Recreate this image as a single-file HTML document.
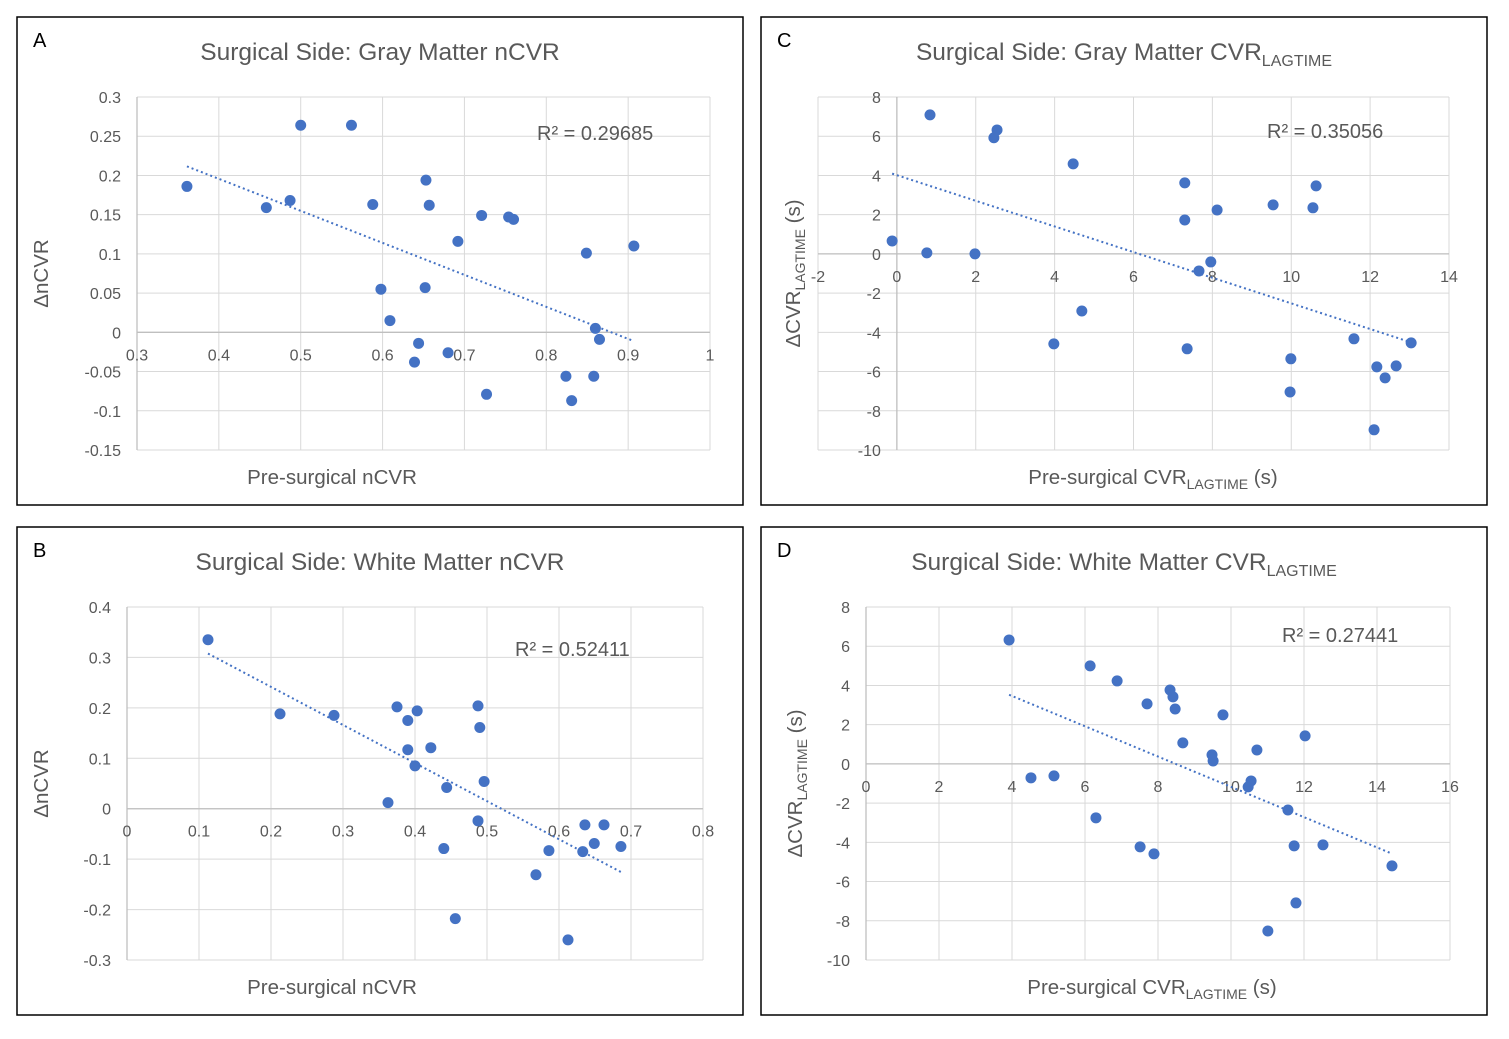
<!DOCTYPE html>
<html><head><meta charset="utf-8"><style>
body{margin:0;background:#fff;}
svg{display:block;font-family:"Liberation Sans",Arial,sans-serif;}
</style></head><body>
<svg id="c" width="1509" height="1039"></svg>
<script>
// Panel A data
const aX=[0.361,0.458,0.487,0.500,0.562,0.588,0.598,0.609,0.653,0.657,0.652,0.644,0.639,0.680,0.692,0.721,0.727,0.754,0.760,0.824,0.831,0.849,0.858,0.860,0.865,0.907];
const aY=[0.186,0.159,0.168,0.264,0.264,0.163,0.055,0.015,0.194,0.162,0.057,-0.014,-0.038,-0.026,0.116,0.149,-0.079,0.147,0.144,-0.056,-0.087,0.101,-0.056,0.005,-0.009,0.110];
// Panel C data
const cX=[-0.12,0.76,0.84,1.98,2.46,2.54,3.98,4.47,4.69,7.30,7.30,7.36,7.66,7.96,8.12,9.54,9.99,9.97,10.55,10.63,11.59,12.10,12.17,12.38,12.66,13.04];
const cY=[0.66,0.05,7.09,0,5.92,6.32,-4.59,4.59,-2.91,3.62,1.73,-4.84,-0.87,-0.41,2.24,2.50,-5.35,-7.04,2.35,3.47,-4.33,-8.97,-5.76,-6.32,-5.71,-4.54];
// Panel B data
const bX=[0.1125,0.2125,0.2875,0.3625,0.375,0.390,0.390,0.403,0.400,0.422,0.440,0.444,0.456,0.4875,0.4875,0.490,0.496,0.568,0.586,0.6125,0.633,0.636,0.649,0.6625,0.686];
const bY=[0.335,0.188,0.185,0.012,0.202,0.175,0.117,0.194,0.085,0.121,-0.079,0.042,-0.218,0.204,-0.024,0.161,0.054,-0.131,-0.083,-0.260,-0.085,-0.032,-0.069,-0.032,-0.075];
// Panel D data
const dX=[3.92,4.52,5.15,6.14,6.30,6.88,7.51,7.70,7.89,8.33,8.41,8.47,8.68,9.48,9.51,9.78,10.47,10.55,10.71,11.56,11.73,11.78,11.01,12.03,12.52,14.41];
const dY=[6.32,-0.71,-0.61,5.00,-2.75,4.23,-4.23,3.06,-4.59,3.77,3.42,2.80,1.07,0.46,0.15,2.50,-1.17,-0.87,0.71,-2.35,-4.18,-7.09,-8.52,1.43,-4.13,-5.20];
// tick arrays
const aXT=[0.3,0.4,0.5,0.6,0.7,0.8,0.9,1];
const aYT=[0.3,0.25,0.2,0.15,0.1,0.05,0,-0.05,-0.1,-0.15];
const cXT=[-2,0,2,4,6,8,10,12,14];
const cYT=[8,6,4,2,0,-2,-4,-6,-8,-10];
const bXT=[0,0.1,0.2,0.3,0.4,0.5,0.6,0.7,0.8];
const bYT=[0.4,0.3,0.2,0.1,0,-0.1,-0.2,-0.3];
const dXT=[0,2,4,6,8,10,12,14,16];
const dYT=[8,6,4,2,0,-2,-4,-6,-8,-10];

const NS="http://www.w3.org/2000/svg";
const svg=document.getElementById('c');
function mk(tag,attrs,parent,text){const e=document.createElementNS(NS,tag);for(const k in attrs)e.setAttribute(k,attrs[k]);if(text!==undefined)e.textContent=text;(parent||svg).appendChild(e);return e;}
function fmt(v){return String(Math.round(v*1000)/1000);}
function panel(o){
  const g=mk('g',{});
  
  
  const box=mk('rect',{x:o.bx,y:o.by,width:726,height:488,fill:'#fff',stroke:'#000','stroke-width':1.5},g);
  
  
  const L=o.L,R=o.R,T=o.T,B=o.B;
  const xs=v=>L+(v-o.xd[0])/(o.xd[1]-o.xd[0])*(R-L);
  const ys=v=>T+(o.yd[1]-v)/(o.yd[1]-o.yd[0])*(B-T);
  o.xt.forEach(v=>{const l=mk('line',{x1:xs(v),x2:xs(v),y1:T,y2:B,stroke:'#d9d9d9','stroke-width':1},g);});
  o.yt.forEach(v=>{const l=mk('line',{x1:L,x2:R,y1:ys(v),y2:ys(v),stroke:'#d9d9d9','stroke-width':1},g);});
  const y0=ys(0), x0=(o.xd[0]<0)?xs(0):L;
  const xa=mk('line',{x1:L,x2:R,y1:y0,y2:y0,stroke:'#bfbfbf','stroke-width':1.3},g);
  const ya=mk('line',{x1:x0,x2:x0,y1:T,y2:B,stroke:'#bfbfbf','stroke-width':1.3},g);
  o.xt.forEach(v=>{const t=mk('text',{x:xs(v),y:y0+28,'text-anchor':'middle','font-size':16,fill:'#595959'},g,fmt(v));});
  o.yt.forEach(v=>{const t=mk('text',{x:x0-16,y:ys(v)+6,'text-anchor':'end','font-size':16,fill:'#595959'},g,fmt(v));});
  // regression trendline
  const n=o.X.length;let mx=0,my=0;for(let i=0;i<n;i++){mx+=o.X[i];my+=o.Y[i];}mx/=n;my/=n;
  let sxy=0,sxx=0;for(let i=0;i<n;i++){sxy+=(o.X[i]-mx)*(o.Y[i]-my);sxx+=(o.X[i]-mx)**2;}
  const m=sxy/sxx,b=my-m*mx;const xmin=Math.min(...o.X),xmax=Math.max(...o.X);
  o.X.forEach((v,i)=>{const c=mk('circle',{cx:xs(v),cy:ys(o.Y[i]),r:5.5,fill:'#4472c4'},g);});
  const tl=mk('line',{x1:xs(xmin),y1:ys(m*xmin+b),x2:xs(xmax),y2:ys(m*xmax+b),stroke:'#4472c4','stroke-width':2,'stroke-dasharray':'2,3'},g);
  
  const r2=mk('text',{x:o.r2x,y:o.r2y,'font-size':20,fill:'#595959'},g,o.r2);
  const lt=mk('text',{x:o.bx+16,y:o.by+30,'font-size':20,fill:'#000'},g,o.letter);
  // title
  const ti=mk('text',{x:o.tx,y:o.by+43,'text-anchor':'middle','font-size':24.5,fill:'#595959'},g);
  
  mk('tspan',{},ti,o.title);
  if(o.lag){mk('tspan',{'font-size':16,dy:6},ti,'LAGTIME');}
  // x title
  const xt=mk('text',{x:o.xtx,y:o.by+467,'text-anchor':'middle','font-size':20.5,fill:'#595959'},g);
  
  if(o.lag){mk('tspan',{},xt,'Pre-surgical CVR');mk('tspan',{'font-size':14,dy:5},xt,'LAGTIME');mk('tspan',{dy:-5},xt,' (s)');}
  else mk('tspan',{},xt,'Pre-surgical nCVR');
  // y title
  const yc=(T+B)/2;
  const yt=mk('text',{x:0,y:0,'text-anchor':'middle','font-size':20.5,fill:'#595959',transform:`translate(${o.ytx},${yc}) rotate(-90)`},g);
  
  if(o.lag){mk('tspan',{},yt,'ΔCVR');mk('tspan',{'font-size':14,dy:5},yt,'LAGTIME');mk('tspan',{dy:-5},yt,' (s)');}
  else mk('tspan',{},yt,'ΔnCVR');
}
panel({name:'panel-a',bx:17,by:17,L:137,R:710,T:97,B:450,xd:[0.3,1],yd:[-0.15,0.3],xt:aXT,yt:aYT,X:aX,Y:aY,r2:'R² = 0.29685',r2x:537,r2y:140,letter:'A',title:'Surgical Side: Gray Matter nCVR',tx:380,xtx:332,ytx:48,lag:false});
panel({name:'panel-c',bx:761,by:17,L:818,R:1449,T:97,B:450,xd:[-2,14],yd:[-10,8],xt:cXT,yt:cYT,X:cX,Y:cY,r2:'R² = 0.35056',r2x:1267,r2y:138,letter:'C',title:'Surgical Side: Gray Matter CVR',tx:1124,xtx:1153,ytx:800,lag:true});
panel({name:'panel-b',bx:17,by:527,L:127,R:703,T:607,B:960,xd:[0,0.8],yd:[-0.3,0.4],xt:bXT,yt:bYT,X:bX,Y:bY,r2:'R² = 0.52411',r2x:515,r2y:656,letter:'B',title:'Surgical Side: White Matter nCVR',tx:380,xtx:332,ytx:48,lag:false});
panel({name:'panel-d',bx:761,by:527,L:866,R:1450,T:607,B:960,xd:[0,16],yd:[-10,8],xt:dXT,yt:dYT,X:dX,Y:dY,r2:'R² = 0.27441',r2x:1282,r2y:642,letter:'D',title:'Surgical Side: White Matter CVR',tx:1124,xtx:1152,ytx:802,lag:true});
</script>
</body></html>
